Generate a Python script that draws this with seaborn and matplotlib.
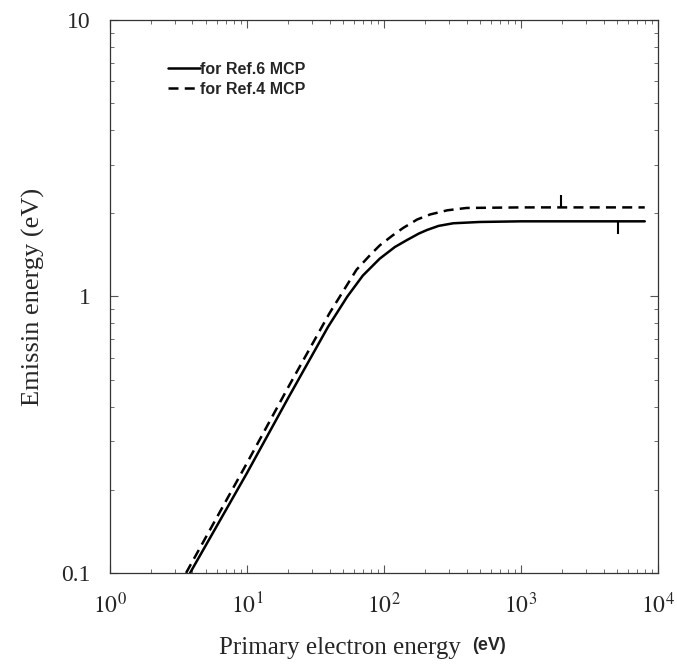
import matplotlib
matplotlib.use("Agg")
import matplotlib.pyplot as plt
import seaborn as sns
import pandas as pd
from matplotlib.ticker import LogLocator, NullFormatter, FixedLocator, FixedFormatter

# curve for Ref.6 MCP (solid)
ref6_x = [3.84, 10, 20, 39, 54, 70, 93, 120, 147, 180, 206, 250, 320, 500, 1000, 3000, 8000]
ref6_y = [0.10, 0.23, 0.43, 0.776, 1.0, 1.19, 1.37, 1.51, 1.60, 1.69, 1.74, 1.80, 1.84, 1.86, 1.87, 1.87, 1.87]

# curve for Ref.4 MCP (dashed)
ref4_x = [3.59, 10, 20, 40, 63, 80, 93, 115, 138, 175, 217, 290, 400, 1000, 3000, 8000]
ref4_y = [0.10, 0.25, 0.47, 0.87, 1.25, 1.42, 1.53, 1.66, 1.77, 1.90, 1.98, 2.05, 2.09, 2.10, 2.10, 2.10]

# small vertical marks near the plateaus
mark_x = [1950, 5100]
mark_y = [2.22, 1.77]

labels = ["for Ref.6 MCP", "for Ref.4 MCP"]
x_ticks = [1, 10, 100, 1000, 10000]
x_ticklabels = ["$10^0$", "$10^1$", "$10^2$", "$10^3$", "$10^4$"]
y_ticks = [0.1, 1, 10]
y_ticklabels = ["0.1", "1", "10"]

df = pd.concat([
    pd.DataFrame({"E": ref6_x, "Em": ref6_y, "curve": labels[0]}),
    pd.DataFrame({"E": ref4_x, "Em": ref4_y, "curve": labels[1]}),
])

sns.set_style("ticks")
plt.rcParams["font.family"] = ["Liberation Serif", "DejaVu Serif"]
plt.rcParams["mathtext.fontset"] = "stix"

fig = plt.figure(figsize=(6.77, 6.67), dpi=100)
ax = fig.add_axes([0.1625, 0.141, 0.8095, 0.829])

sns.lineplot(data=df, x="E", y="Em", hue="curve", style="curve",
             palette=["black", "black"], dashes=[(None, None), (4, 2.5)],
             linewidth=1.8, ax=ax, sort=False)
sns.scatterplot(x=mark_x, y=mark_y, marker="|", s=70, color="black",
                linewidth=1.5, ax=ax, legend=False)

ax.set_xscale("log")
ax.set_yscale("log")
ax.set_xlim(1, 10000)
ax.set_ylim(0.1, 10)

ax.xaxis.set_major_locator(FixedLocator(x_ticks))
ax.xaxis.set_major_formatter(FixedFormatter(x_ticklabels))
ax.yaxis.set_major_locator(FixedLocator(y_ticks))
ax.yaxis.set_major_formatter(FixedFormatter(y_ticklabels))
ax.xaxis.set_minor_locator(LogLocator(base=10, subs=range(2, 10)))
ax.yaxis.set_minor_locator(LogLocator(base=10, subs=range(2, 10)))
ax.xaxis.set_minor_formatter(NullFormatter())
ax.yaxis.set_minor_formatter(NullFormatter())

ax.tick_params(which="both", direction="in", top=True, right=True, color="#555555")
ax.tick_params(which="major", length=6, width=0.8, labelsize=17, pad=14)
ax.tick_params(which="minor", length=3, width=0.6)
for s in ax.spines.values():
    s.set_linewidth(0.9)
    s.set_color("#333333")

ax.set_xlabel("Primary electron energy", fontsize=18, labelpad=14)
ax.set_ylabel("Emissin energy (eV)", fontsize=19, labelpad=12)
ax.xaxis.label.set_position((0.42, 0))
fig.text(0.697, 0.026, "(eV)", fontsize=13, fontweight="bold",
         family=["Liberation Sans", "DejaVu Sans"])

leg = ax.legend(loc="upper left", bbox_to_anchor=(0.08, 0.95), frameon=False,
                handlelength=2.0, handletextpad=0.0, labelspacing=0.3,
                prop={"family": ["Liberation Sans", "DejaVu Sans"], "size": 11.5})
for t in leg.get_texts():
    t.set_fontweight("bold")

fig.savefig("out.png", dpi=100)
